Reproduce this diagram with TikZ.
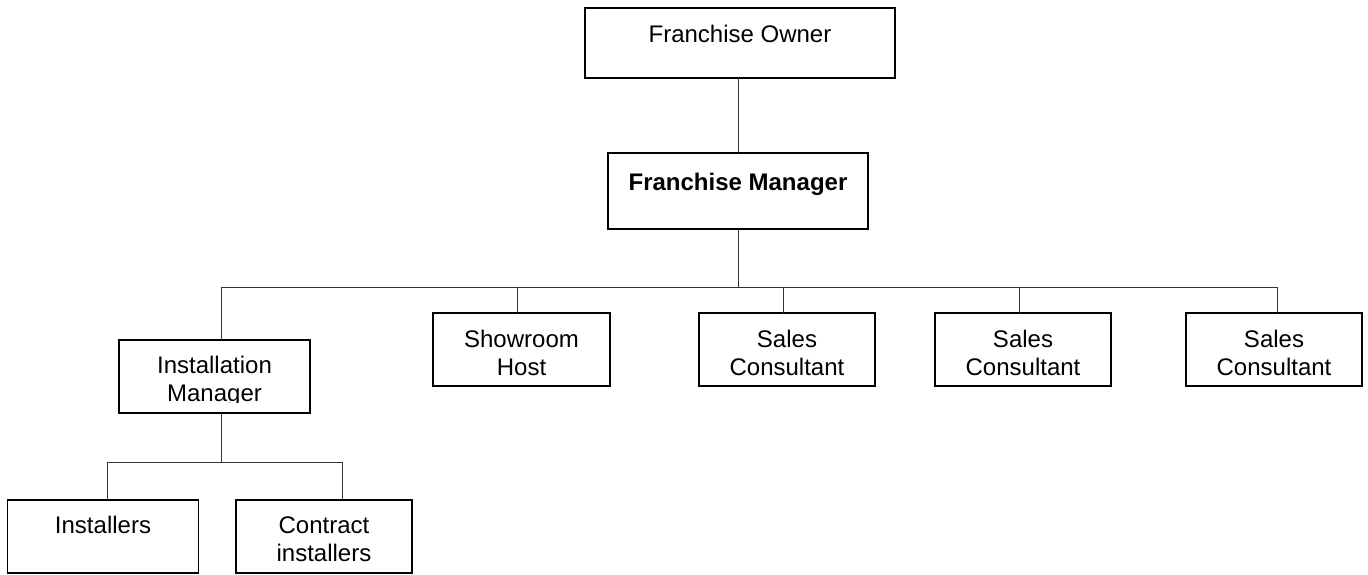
\documentclass[tikz,border=0pt]{standalone}
\usepackage{fontspec}
\setmainfont{Liberation Sans}
\begin{document}
\begin{tikzpicture}[x=1pt,y=-1pt,
  box/.style={draw=black,line width=1.5pt,rectangle,inner sep=0pt,outer sep=0pt},
  lbl/.style={inner sep=0pt,outer sep=0pt,align=center,anchor=base,
    font=\fontsize{24}{27.5}\selectfont},
  link/.style={draw=black!80,line width=1pt}]
\useasboundingbox (0,0) rectangle (1368,574);
% boxes
\node[box,minimum width=310pt,minimum height=70pt] (owner) at (740,43) {};
\node[box,minimum width=260pt,minimum height=76pt] (mgr) at (738,191) {};
\node[box,minimum width=191pt,minimum height=73pt] (im) at (214.5,376.5) {};
\node[box,minimum width=177pt,minimum height=73pt] (show) at (521.5,349.5) {};
\node[box,minimum width=176pt,minimum height=73pt] (sc1) at (787,349.5) {};
\node[box,minimum width=176pt,minimum height=73pt] (sc2) at (1023,349.5) {};
\node[box,minimum width=176pt,minimum height=73pt] (sc3) at (1274,349.5) {};
\node[box,minimum width=191pt,minimum height=73pt] (inst) at (103,536.5) {};
\node[box,minimum width=176pt,minimum height=73pt] (cont) at (324,536.5) {};
% texts
\node[lbl] (ownerT) at (740,42) {Franchise Owner};
\node[lbl,font=\fontsize{24}{27.5}\selectfont\bfseries] (mgrT) at (738,190) {Franchise Manager};
\begin{scope}
\clip (119,340) rectangle (310,402);
\node[lbl] (imT) at (214.5,401) {Installation\\Manager};
\end{scope}
\node[lbl] (showT) at (521.5,375) {Showroom\\Host};
\node[lbl] (sc1T) at (787,375) {Sales\\Consultant};
\node[lbl] (sc2T) at (1023,375) {Sales\\Consultant};
\node[lbl] (sc3T) at (1274,375) {Sales\\Consultant};
\node[lbl] (instT) at (103,533) {Installers};
\node[lbl] (contT) at (324,561) {Contract\\installers};
% connectors
\coordinate (bus) at (738,287);
\coordinate (d1) at (221,287);
\coordinate (d2) at (517,287);
\coordinate (d3) at (783,287);
\coordinate (d4) at (1019,287);
\coordinate (d5) at (1277,287);
\coordinate (sub) at (221,462);
\coordinate (e1) at (107,462);
\coordinate (e2) at (342,462);
\draw[link] (mgr.north) -- (mgr.north |- owner.south);
\draw[link] (mgr.south) -- (bus);
\draw[link] (d1) -- (d5);
\draw[link] (d1) -- (d1 |- im.north);
\draw[link] (d2) -- (d2 |- show.north);
\draw[link] (d3) -- (d3 |- sc1.north);
\draw[link] (d4) -- (d4 |- sc2.north);
\draw[link] (d5) -- (d5 |- sc3.north);
\draw[link] (sub |- im.south) -- (sub);
\draw[link] (e1) -- (e2);
\draw[link] (e1) -- (e1 |- inst.north);
\draw[link] (e2) -- (e2 |- cont.north);
\end{tikzpicture}
\end{document}
